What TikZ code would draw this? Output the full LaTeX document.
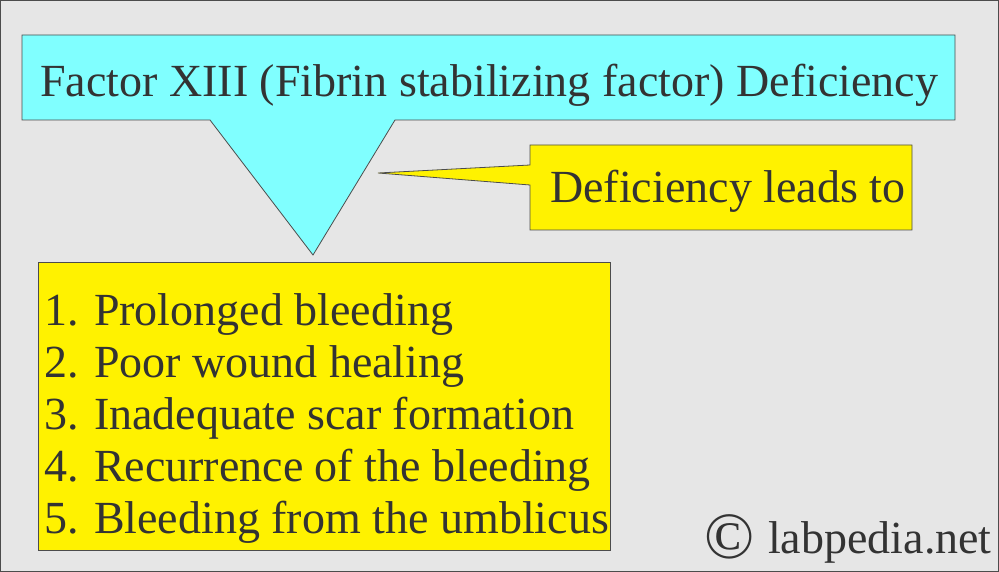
\documentclass[tikz,border=0pt]{standalone}
\usepackage{fontspec}
\setmainfont{Liberation Serif}
\definecolor{bg}{HTML}{E6E6E6}
\definecolor{cy}{HTML}{80FFFF}
\definecolor{ye}{HTML}{FFF200}
\definecolor{tx}{HTML}{333333}
\begin{document}
\begin{tikzpicture}[x=1bp,y=-1bp,
  shp/.style={draw=black!70,line width=0.8bp},
  txt/.style={text=tx,font=\fontsize{46bp}{52bp}\selectfont,inner sep=0pt}]
\useasboundingbox (0,0) rectangle (999,572);
\draw[fill=bg,draw=black!70,line width=1.5bp] (0.75,0.75) rectangle (998.25,571.25);
\draw[shp,fill=cy] (22,35)--(955,35)--(955,120)--(395,120)--(313,255)--(210,120)--(22,120)--cycle;
\draw[shp,fill=ye] (530,145)--(912,145)--(912,230)--(530,230)--(530,185)--(378,173)--(530,165)--cycle;
\draw[shp,fill=ye] (38,262) rectangle (610,550);
\node[txt,anchor=base west] (t) at (40,97) {Factor XIII (Fibrin stabilizing factor) Deficiency};
\node[txt,anchor=base west] (d) at (550,203) {Deficiency leads to};
\node[txt,anchor=base west,align=left] (l) at (44,533) {1. Prolonged bleeding\\2. Poor wound healing\\3. Inadequate scar formation\\4. Recurrence of the bleeding\\5. Bleeding from the umblicus};
\node[txt,anchor=base west] (c) at (704,558) {\fontsize{66bp}{66bp}\selectfont\textcopyright};
\node[txt,anchor=base west] (lp) at (768,553) {labpedia.net};
\end{tikzpicture}
\end{document}
